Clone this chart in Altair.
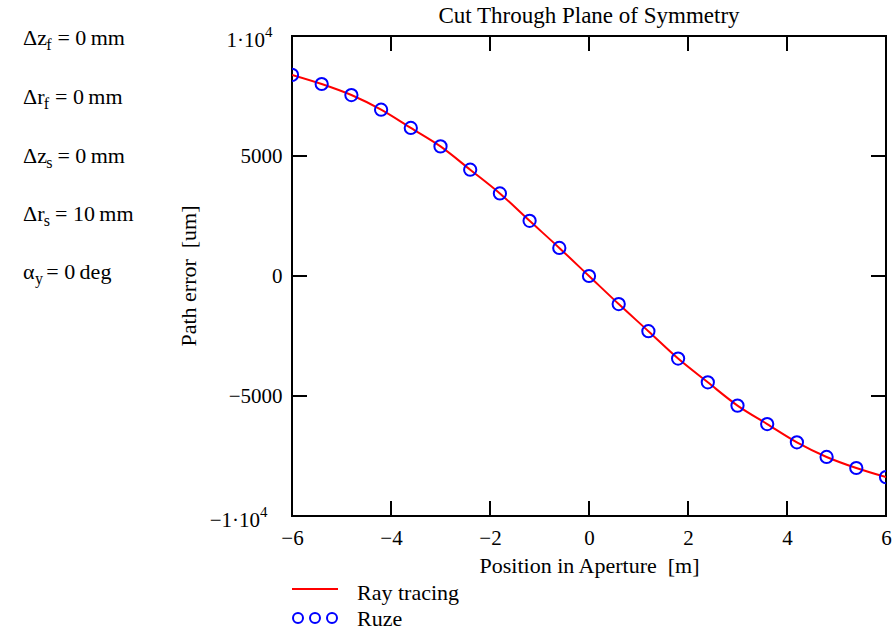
import altair as alt
import pandas as pd

FONT = "Liberation Serif"

# Aperture positions [m] and path error [um]
x_pos = [-6.0, -5.4, -4.8, -4.2, -3.6, -3.0, -2.4, -1.8, -1.2, -0.6, 0.0,
         0.6, 1.2, 1.8, 2.4, 3.0, 3.6, 4.2, 4.8, 5.4, 6.0]
ray_tracing = [8380, 8000, 7540, 6930, 6170, 5400, 4430, 3440, 2300, 1170, 0,
               -1170, -2300, -3440, -4430, -5400, -6170, -6930, -7540, -8000, -8380]
ruze = [8380, 8000, 7540, 6930, 6170, 5400, 4430, 3440, 2300, 1170, 0,
        -1170, -2300, -3440, -4430, -5400, -6170, -6930, -7540, -8000, -8380]

x_labels = [-6, -4, -2, 0, 2, 4, 6]
x_ticks = [-4, -2, 0, 2, 4]
y_labels = [-5000, 0, 5000]

# Offset parameters shown beside the plot
param_sym = ["Δz", "Δr", "Δz", "Δr", "α"]
param_sub = ["f", "f", "s", "s", "y"]
param_val = ["0", "0", "0", "10", "0"]
param_unit = ["mm", "mm", "mm", "mm", "deg"]

W, H = 594, 480
FS = 21      # tick labels
TS = 22      # titles and legend text
NB = "\u00a0"

df = pd.DataFrame({"x": x_pos, "ray": ray_tracing, "ruze": ruze})
xs = alt.Scale(domain=[-6, 6], nice=False)
ys = alt.Scale(domain=[-10000, 10000], nice=False)
one = alt.Data(values=[{}])


def text(s, x, y, size=TS, align="left", dy=0, angle=0):
    return alt.Chart(one).mark_text(
        text=s, font=FONT, fontSize=size, align=align, baseline="middle",
        dy=dy, angle=angle, color="black"
    ).encode(x=alt.value(x), y=alt.value(y))


line = alt.Chart(df).mark_line(
    color="#ff0000", strokeWidth=2, interpolate="monotone", clip=True
).encode(
    x=alt.X("x:Q", scale=xs, axis=alt.Axis(
        values=x_labels, ticks=False, domain=False, grid=False, format="d",
        labelFont=FONT, labelFontSize=FS, labelColor="black", labelPadding=11,
        labelFlush=False, labelOverlap=False,
        title=f"Position in Aperture {NB}[m]", titleFont=FONT, titleFontSize=TS,
        titleFontWeight="normal", titleColor="black", titlePadding=7)),
    y=alt.Y("ray:Q", scale=ys, axis=alt.Axis(
        values=y_labels, ticks=False, domain=False, grid=False, format="d",
        labelFont=FONT, labelFontSize=FS, labelColor="black", labelPadding=10,
        labelOverlap=False, title=None)),
)

points = alt.Chart(df).mark_point(
    shape="circle", filled=False, size=150, strokeWidth=2, color="#0000ff",
    opacity=1, clip=True
).encode(x=alt.X("x:Q", scale=xs), y=alt.Y("ruze:Q", scale=ys))

xt = pd.DataFrame({"t": x_ticks})
yt = pd.DataFrame({"v": y_labels})
tick_style = dict(color="black", strokeWidth=2)
ticks = [
    alt.Chart(xt).mark_rule(**tick_style).encode(
        x=alt.X("t:Q", scale=xs), y=alt.value(H), y2=alt.value(H - 15)),
    alt.Chart(xt).mark_rule(**tick_style).encode(
        x=alt.X("t:Q", scale=xs), y=alt.value(0), y2=alt.value(15)),
    alt.Chart(yt).mark_rule(**tick_style).encode(
        y=alt.Y("v:Q", scale=ys), x=alt.value(0), x2=alt.value(15)),
    alt.Chart(yt).mark_rule(**tick_style).encode(
        y=alt.Y("v:Q", scale=ys), x=alt.value(W - 15), x2=alt.value(W)),
]

# Axis end labels with superscript exponent
ends = [
    text("1·10", -27, 5, size=FS, align="right"),
    text("4", -27, 5, size=15, dy=-9),
    text("−1·10", -32, H + 5, size=FS, align="right"),
    text("4", -32, H + 5, size=15, dy=-9),
]

titles = [
    text("Cut Through Plane of Symmetry", W / 2, -20, size=23, align="center"),
    text(f"Path error {NB}[um]", -103, H / 2, align="center", angle=270),
]

# Legend below the plot
legend = [
    alt.Chart(one).mark_rule(color="#ff0000", strokeWidth=2).encode(
        x=alt.value(0), x2=alt.value(46), y=alt.value(553)),
    text("Ray tracing", 65, 557),
    text("Ruze", 65, 583),
]
for cx in (6, 23, 40):
    legend.append(alt.Chart(one).mark_point(
        shape="circle", filled=False, size=100, strokeWidth=2, color="#0000ff",
        opacity=1
    ).encode(x=alt.value(cx), y=alt.value(582)))

# Parameter block with subscripts
BS = 22
ADV = {"Δ": 0.612, "z": 0.444, "r": 0.333, "α": 0.55}
SUB = 16
params = []
x0 = -269
rows_y = [2, 61, 120, 178, 236]
for sym, sub, val, unit, y in zip(param_sym, param_sub, param_val, param_unit, rows_y):
    w = sum(ADV.get(c, 0.5) for c in sym) * BS
    params.append(text(sym, x0, y, size=BS))
    params.append(text(sub, x0 + w, y, size=SUB, dy=7))
    params.append(text(f"= {val}\u2009{unit}", x0 + w + 0.45 * SUB + 4, y, size=BS))

chart = alt.layer(
    line, points, *ticks, *ends, *titles, *legend, *params
).properties(
    width=W, height=H,
    padding={"left": 292, "top": 36, "right": 10, "bottom": 119},
    autosize=alt.AutoSizeParams(type="none"),
    background="white",
).configure_view(stroke="black", strokeWidth=2)

chart.save("out.html", embed_options={"renderer": "svg", "actions": False})
